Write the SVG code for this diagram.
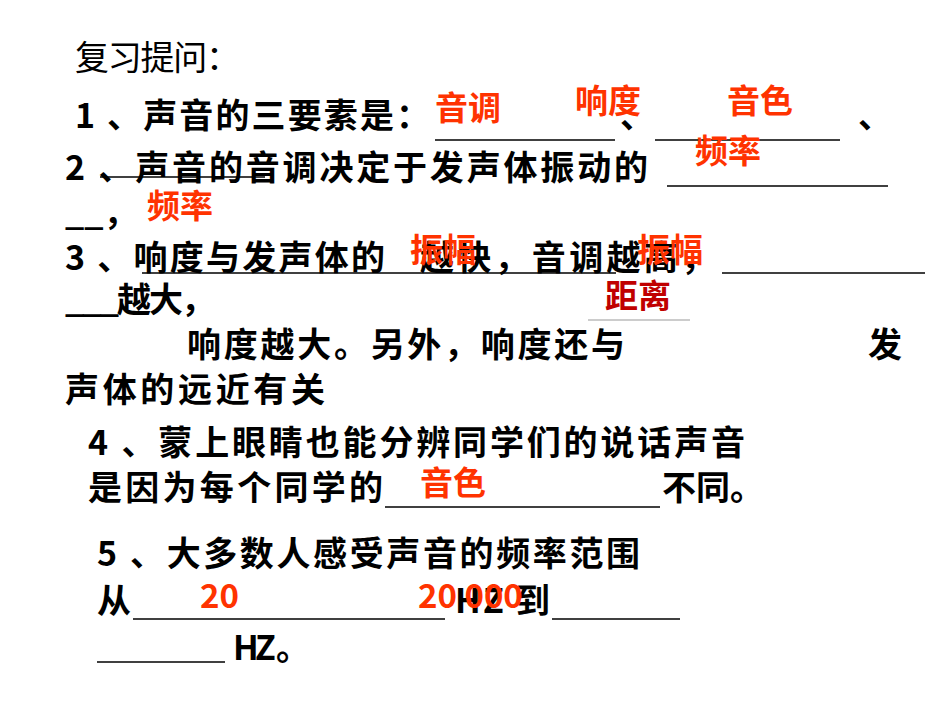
<svg xmlns="http://www.w3.org/2000/svg" width="950" height="713" viewBox="0 0 950 713">
<style>
.t{font-family:"Noto Sans CJK SC","Liberation Sans",sans-serif;font-size:34px;font-weight:bold;fill:#000}
.r{font-family:"Noto Sans CJK SC","Liberation Sans",sans-serif;font-size:33px;font-weight:bold;fill:#ff3300}
.d{fill:#c00000}
.u{stroke:#000;stroke-width:1.5}
</style>
<rect width="950" height="713" fill="#fff"/>
<g id="text">
<text class="t" x="75" y="70" textLength="165" style="font-weight:normal">复习提问：</text>
<text class="t" x="75" y="128" textLength="355">1 、声音的三要素是：</text>
<text class="t" x="620" y="128">、</text>
<text class="t" x="858" y="128">、</text>
<text class="t" x="65" y="180" textLength="583">2 、声音的音调决定于发声体振动的</text>
<text class="t" x="65" y="225">__，</text>
<text class="t" x="65" y="270" textLength="320">3 、响度与发声体的</text>
<text class="t" x="420" y="270" textLength="295">越快，音调越高，</text>
<text class="t" x="65" y="312" textLength="150">___越大，</text>
<text class="t" x="187" y="357" textLength="438">响度越大。另外，响度还与</text>
<text class="t" x="868" y="357">发</text>
<text class="t" x="65" y="402" textLength="260">声体的远近有关</text>
<text class="t" x="88" y="455" textLength="657">4 、蒙上眼睛也能分辨同学们的说话声音</text>
<text class="t" x="88" y="500" textLength="295">是因为每个同学的</text>
<text class="t" x="662" y="500">不同。</text>
<text class="t" x="97" y="566" textLength="543">5 、大多数人感受声音的频率范围</text>
<text class="t" x="97" y="613">从</text>
<text class="t" x="455" y="613" textLength="95">HZ 到</text>
<text class="t" x="233" y="660" textLength="77">HZ 。</text>
</g>
<g id="lines">
<line class="u" x1="435" y1="140" x2="615" y2="140"/>
<line class="u" x1="655" y1="140" x2="840" y2="140"/>
<line class="u" x1="100" y1="177" x2="265" y2="177"/>
<line class="u" x1="667" y1="186" x2="888" y2="186"/>
<line class="u" x1="142" y1="273" x2="616" y2="273"/>
<line class="u" x1="722" y1="273" x2="925" y2="273"/>
<line x1="588" y1="320" x2="690" y2="320" stroke="#999" stroke-width="1"/>
<line class="u" x1="385" y1="507" x2="660" y2="507"/>
<line class="u" x1="133" y1="619" x2="445" y2="619"/>
<line class="u" x1="552" y1="619" x2="680" y2="619"/>
<line class="u" x1="97" y1="662" x2="225" y2="662"/>
</g>
<g id="answers">
<text class="r" x="435" y="120">音调</text>
<text class="r" x="575" y="113">响度</text>
<text class="r" x="727" y="113">音色</text>
<text class="r" x="695" y="163">频率</text>
<text class="r" x="147" y="218">频率</text>
<text class="r" x="410" y="262">振幅</text>
<text class="r" x="637" y="262">振幅</text>
<text class="r d" x="605" y="308">距离</text>
<text class="r" x="420" y="495">音色</text>
<text class="r" x="200" y="608">20</text>
<text class="r" x="418" y="608">20 000</text>
</g>
</svg>
